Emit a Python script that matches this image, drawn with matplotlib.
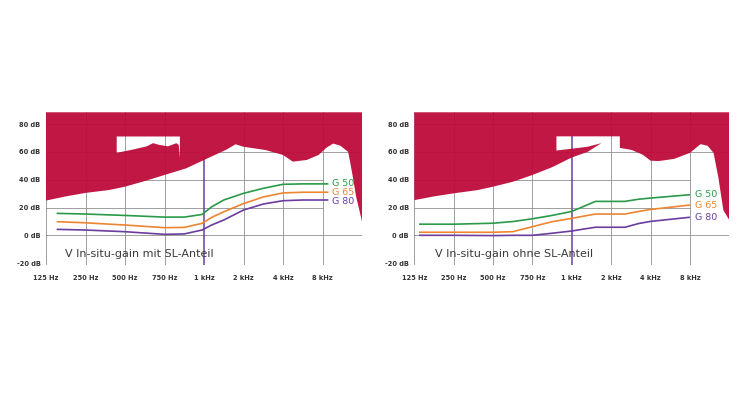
import numpy as np
import matplotlib
matplotlib.use("Agg")
import matplotlib.pyplot as plt
from matplotlib.path import Path
from matplotlib.patches import PathPatch

# frequency axis (category positions 0..7, right edge of plot at 8)
freq_labels = ['125 Hz', '250 Hz', '500 Hz', '750 Hz', '1 kHz', '2 kHz', '4 kHz', '8 kHz']
db_ticks = [-20, 0, 20, 40, 60, 80]

# lower edge of the red (discomfort) area, left panel
thr_l_x = [0, 0.5, 1, 1.6, 2, 2.45, 3, 3.55, 4, 4.55, 4.8, 5, 5.55, 6, 6.25, 6.6,
           6.9, 7.1, 7.27, 7.45, 7.65, 7.75, 7.85, 8.0]
thr_l_y = [25, 28, 30.5, 32.6, 35, 38.6, 43.4, 48.2, 54.2, 61.4, 65.5, 63.7, 61.4,
           57.8, 53, 54.2, 57.8, 63, 66, 64.5, 60, 45, 28, 10]
# white cut-out inside the red area, left panel
hole_l_x = [1.79, 2.2, 2.55, 2.71, 2.86, 3.09, 3.3, 3.36, 3.39]
hole_l_lo = [59.3, 61.7, 64, 66.3, 65.1, 64, 66.3, 65, 55.7]
hole_l_hi = 71.1

# right panel
thr_r_x = [0, 0.5, 1, 1.6, 2, 2.5, 3, 3.5, 4, 4.4, 4.75, 4.9, 5.0, 5.09, 5.15,
           5.22, 5.52, 5.8, 6.0, 6.2, 6.6, 7.0, 7.27, 7.45, 7.6, 7.72, 7.85, 8.0]
thr_r_y = [25.3, 28, 30.2, 32.5, 35, 38.5, 43.4, 49, 56, 60, 66.3, 64.5, 64, 66.4,
           63.8, 62.9, 61.4, 58, 53.7, 53.4, 55, 59.3, 65.6, 64.4, 59.3, 42, 18, 11]
hole_r_x = [3.61, 4.0, 4.4, 4.75, 4.9, 5.0, 5.09, 5.15, 5.22]
hole_r_lo = [61, 62.3, 63.7, 66.3, 64.5, 64, 66.4, 63.8, 62.9]
hole_r_hi = 71.2

# in-situ gain curves, with SL part
gain_l_x = [0.27, 1, 2, 3, 3.5, 3.95, 4.2, 4.5, 5, 5.5, 6, 6.5, 7.15]
g50_l = [15.8, 15.3, 14.3, 13.1, 13.1, 15, 20.6, 25.4, 30.2, 33.8, 36.7, 37, 37]
g65_l = [9.8, 9, 7.4, 5.5, 5.7, 8.6, 13, 16.9, 22.8, 27.6, 30.5, 31, 31]
g80_l = [4.3, 3.8, 2.6, 0.7, 1, 3.8, 7.5, 11, 18.2, 22.5, 24.9, 25.4, 25.4]

# without SL part
gain_r_x = [0.12, 1, 2, 2.5, 3, 3.5, 4, 4.3, 4.6, 5, 5.35, 5.7, 6, 6.5, 7]
g50_r = [8, 8, 8.7, 9.9, 11.9, 14.3, 17.2, 20.8, 24.4, 24.4, 24.4, 26, 26.8, 28, 29.2]
g65_r = [2.2, 2.2, 2.2, 2.6, 6.2, 9.8, 12.2, 13.8, 15.3, 15.3, 15.3, 17.2, 18.6, 20.2, 21.8]
g80_r = [0, 0, -0.2, 0, 0, 1.5, 3.1, 4.5, 5.8, 5.8, 5.8, 8.5, 10, 11.5, 13]

RED = '#BE0A3A'
GREEN = '#2A9A48'
ORANGE = '#EE8530'
PURPLE = '#6A3D9E'
TOP = 88.5
BOTTOM = -21.5


def red_area(thr_x, thr_y, hole_x, hole_lo, hole_hi):
    # red region above the threshold, with the white cut-out as a hole
    outer = list(zip(thr_x, thr_y)) + [(8, TOP), (0, TOP), (thr_x[0], thr_y[0])]
    inner = list(zip(hole_x, hole_lo)) + [(hole_x[-1], hole_hi), (hole_x[0], hole_hi),
                                          (hole_x[0], hole_lo[0])]
    inner = inner[::-1]
    verts = outer + inner
    codes = ([Path.MOVETO] + [Path.LINETO] * (len(outer) - 2) + [Path.CLOSEPOLY] +
             [Path.MOVETO] + [Path.LINETO] * (len(inner) - 2) + [Path.CLOSEPOLY])
    return PathPatch(Path(verts, codes), facecolor=RED, edgecolor='none', alpha=0.95,
                     zorder=2)


def draw_panel(ax, thr_x, thr_y, hole_x, hole_lo, hole_hi, gx, curves, label_y,
               label_x, title, title_x, khz_top):
    ax.set_xlim(0, 8)
    ax.set_ylim(BOTTOM, TOP)
    for s in ax.spines.values():
        s.set_visible(False)

    # grid (under the red area)
    gc = dict(color='#8f8f8f', lw=0.6, zorder=1)
    for x in [0, 1, 2, 3, 5, 6, 7, 8]:
        ax.plot([x, x], [BOTTOM, TOP], **gc)
    for y in [20, 40]:
        ax.plot([0, 7], [y, y], **gc)
    for y in [0, 60, 80]:
        ax.plot([0, 8], [y, y], **gc)
    ax.plot([0, 8], [BOTTOM, BOTTOM], **gc)
    ax.plot([4, 4], [BOTTOM, khz_top], color=PURPLE, lw=1.1, zorder=1.5)

    ax.add_patch(red_area(thr_x, thr_y, hole_x, hole_lo, hole_hi))

    for (vals, col, name), ly in zip(curves, label_y):
        ax.plot(gx, vals, color=col, lw=1.2, zorder=4, solid_capstyle='butt')
        ax.text(label_x, ly, name, color=col, fontsize=6.8, va='center',
                ha='left', zorder=5)

    ax.text(title_x, -13.6, title, fontsize=8, color='#3a3a3a', va='center', ha='left',
            zorder=5)

    ax.set_xticks(range(len(freq_labels)))
    ax.set_xticklabels(freq_labels, fontsize=4.8, color='#333333', fontweight='bold')
    ax.set_yticks(db_ticks)
    ax.set_yticklabels([f'{v} dB' for v in db_ticks], fontsize=4.8, color='#333333',
                       fontweight='bold')
    ax.tick_params(length=0, pad=4)
    ax.tick_params(axis='x', pad=7)


fig = plt.figure(figsize=(7.5, 3.95), dpi=100)
ax1 = fig.add_axes([46 / 750, 1 - 265.2 / 395, 316 / 750, 152.9 / 395])
ax2 = fig.add_axes([414.3 / 750, 1 - 265.2 / 395, 315 / 750, 152.9 / 395])

draw_panel(ax1, thr_l_x, thr_l_y, hole_l_x, hole_l_lo, hole_l_hi, gain_l_x,
           [(g50_l, GREEN, 'G 50'), (g65_l, ORANGE, 'G 65'), (g80_l, PURPLE, 'G 80')],
           [37.6, 31, 24.4], 7.23, 'V In-situ-gain mit SL-Anteil', 0.48, 56)
draw_panel(ax2, thr_r_x, thr_r_y, hole_r_x, hole_r_lo, hole_r_hi, gain_r_x,
           [(g50_r, GREEN, 'G 50'), (g65_r, ORANGE, 'G 65'), (g80_r, PURPLE, 'G 80')],
           [29.4, 21.8, 13], 7.12, 'V In-situ-gain ohne SL-Anteil', 0.53, hole_r_hi)

fig.savefig('out.png', dpi=100)
